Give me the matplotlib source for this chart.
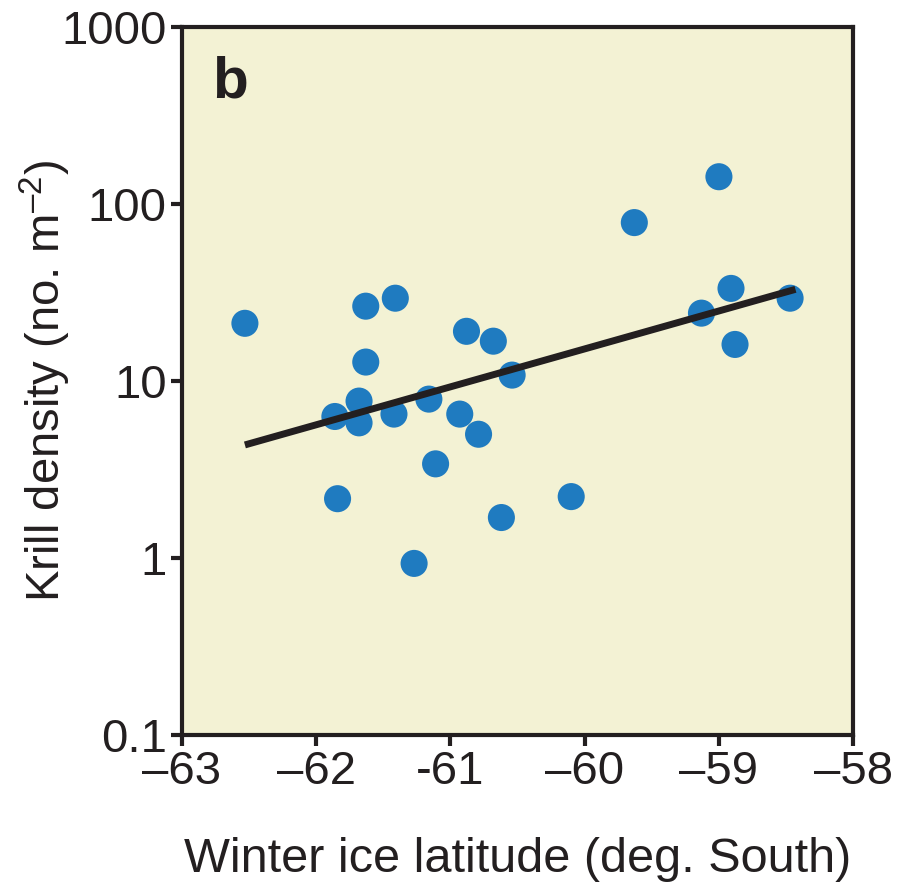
import numpy as np
import matplotlib
matplotlib.use("Agg")
import matplotlib.pyplot as plt

plt.rcParams["font.family"] = ["Liberation Sans", "DejaVu Sans"]
plt.rcParams["mathtext.fontset"] = "custom"
plt.rcParams["mathtext.rm"] = "Liberation Sans"
plt.rcParams["mathtext.it"] = "Liberation Sans"

# winter ice latitude (deg) and krill density (no. m^-2)
ice_lat = [-62.53, -61.86, -61.84, -61.68, -61.68, -61.63, -61.63, -61.42,
           -61.41, -61.27, -61.16, -61.11, -60.93, -60.88, -60.79, -60.68,
           -60.62, -60.54, -60.10, -59.63, -59.13, -59.00, -58.91, -58.88,
           -58.47]
krill = [21.2, 6.3, 2.16, 5.8, 7.7, 26.5, 12.8, 6.5,
         29.4, 0.93, 7.9, 3.4, 6.5, 19.1, 5.0, 16.8,
         1.69, 10.8, 2.22, 78.7, 24.2, 143, 33.4, 16.1,
         29.4]

# regression line end points
fit_x = [-62.53, -58.43]
fit_y = [4.35, 33.0]

xticks = [-63, -62, -61, -60, -59, -58]
xtick_labels = ["\u201363", "\u201362", "-61", "\u201360", "\u201359", "\u201358"]
yticks = [0.1, 1, 10, 100, 1000]
ytick_labels = ["0.1", "1", "10", "100", "1000"]

fig = plt.figure(figsize=(9, 8.83), dpi=100)
ax = fig.add_axes([0.202, 0.168, 0.746, 0.801])
ax.set_facecolor("#f3f2d4")

ax.scatter(ice_lat, krill, s=380, color="#1f7bc0", edgecolors="none", zorder=3)
ax.plot(fit_x, fit_y, color="#231f20", lw=5, solid_capstyle="butt", zorder=4)

ax.set_yscale("log")
ax.set_xlim(-63, -58)
ax.set_ylim(0.1, 1000)
ax.set_xticks(xticks)
ax.set_xticklabels(xtick_labels)
ax.set_yticks(yticks)
ax.set_yticklabels(ytick_labels)
ax.minorticks_off()

for s in ax.spines.values():
    s.set_linewidth(3)
    s.set_color("#231f20")
ax.tick_params(axis="both", direction="out", length=8, width=3,
               labelsize=34, colors="#231f20", pad=3)

ax.set_xlabel("Winter ice latitude (deg. South)", fontsize=35, color="#231f20", labelpad=31)
ax.set_ylabel("Krill density (no. m$^{\u20132}$)", fontsize=34, color="#231f20")
ax.yaxis.set_label_coords(-0.162, 0.5)

ax.text(0.045, 0.922, "b", transform=ax.transAxes, fontsize=42, fontweight="heavy",
        color="#231f20", va="center", ha="left")

fig.savefig("out.png", dpi=100)
